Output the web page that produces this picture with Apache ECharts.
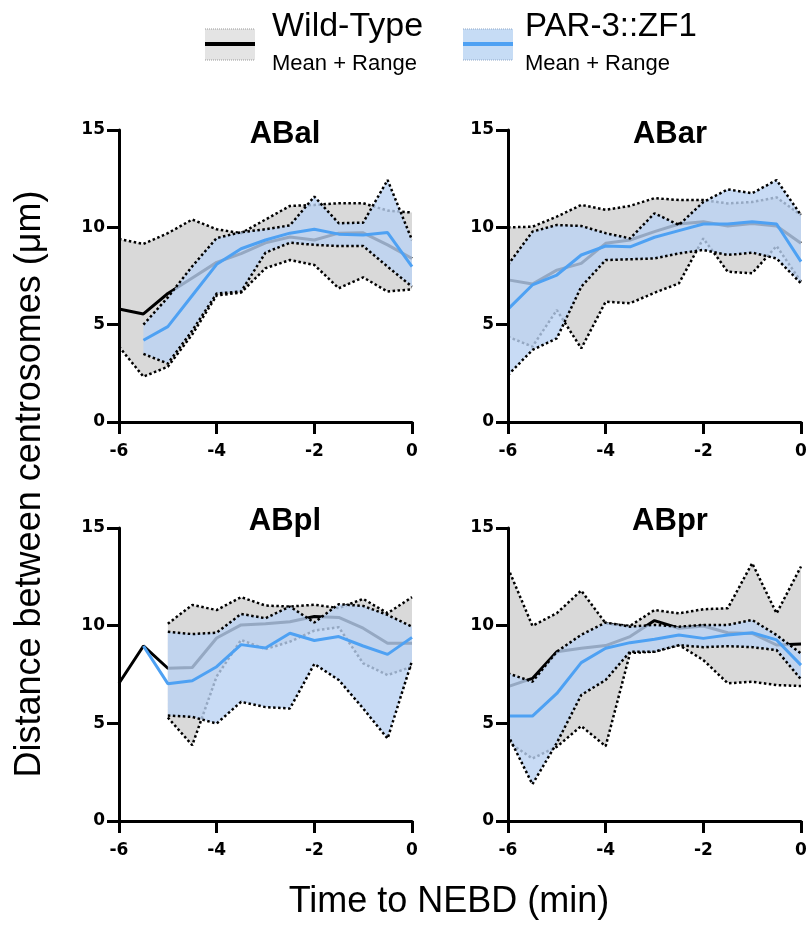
<!DOCTYPE html>
<html>
<head>
<meta charset="utf-8">
<title>Centrosome distance</title>
<script src="https://cdn.jsdelivr.net/npm/echarts@6.0.0/dist/echarts.min.js"></script>
<style>
  html, body { margin: 0; padding: 0; background: #fff; }
  #chart { width: 810px; height: 928px; }
</style>
</head>
<body>
<div id="chart"></div>
<script>
// time points (min before NEBD)
const times = [-6, -5.5, -5, -4.5, -4, -3.5, -3, -2.5, -2, -1.5, -1, -0.5, 0]
const panelNames = ['ABal', 'ABar', 'ABpl', 'ABpr']
const xTicks = [-6, -4, -2, 0]
const yTicks = [0, 5, 10, 15]

// ABal
const abalWtMean = [5.8, 5.55, 6.6, 7.4, 8.2, 8.65, 9.2, 9.5, 9.35, 9.7, 9.72, 9.1, 8.4]
const abalWtLow = [3.87, 2.33, 2.84, 4.5, 6.5, 6.65, 7.9, 8.32, 8.07, 6.87, 7.43, 6.7, 6.82]
const abalWtHigh = [9.4, 9.15, 9.7, 10.4, 9.9, 9.7, 10.4, 11.1, 11.15, 11.24, 11.24, 10.86, 10.76]
const abalParMean = [null, 4.2, 4.9, 6.5, 8.1, 8.9, 9.35, 9.7, 9.9, 9.65, 9.61, 9.73, 7.98]
const abalParLow = [null, 3.5, 3.0, 4.7, 6.6, 6.7, 8.7, 9.21, 9.1, 9.04, 9.04, 7.98, 6.95]
const abalParHigh = [null, 5.0, 6.4, 8.0, 9.45, 9.75, 9.9, 10.1, 11.58, 10.21, 10.24, 12.43, 9.35]

// ABar
const abarWtMean = [7.3, 7.09, 7.8, 8.15, 9.18, 9.35, 9.78, 10.17, 10.29, 10.07, 10.2, 10.07, 9.18]
const abarWtLow = [4.38, 3.87, 5.75, 3.78, 6.18, 6.1, 6.64, 7.12, 9.43, 7.72, 7.64, 9.04, 7.2]
const abarWtHigh = [10.0, 10.03, 10.55, 11.15, 10.9, 11.1, 11.5, 11.4, 11.4, 11.23, 11.3, 11.54, 10.63]
const abarParMean = [5.8, 7.04, 7.55, 8.58, 9.04, 9.0, 9.49, 9.83, 10.17, 10.17, 10.29, 10.17, 8.24]
const abarParLow = [2.41, 3.7, 4.3, 6.95, 8.32, 8.36, 8.4, 8.66, 8.84, 8.58, 8.7, 8.4, 7.12]
const abarParHigh = [8.07, 9.78, 10.12, 10.07, 9.7, 9.43, 10.72, 10.12, 11.3, 11.95, 11.75, 12.43, 10.63]

// ABpl
const abplWtMean = [7.05, 8.96, 7.82, 7.86, 9.37, 10.04, 10.1, 10.2, 10.47, 10.42, 9.87, 9.1, 9.1]
const abplWtLow = [null, null, 5.3, 3.88, 7.4, 9.27, 8.8, 9.18, 9.75, 9.92, 8.07, 7.47, 7.9]
const abplWtHigh = [null, null, 10.1, 11.06, 10.8, 11.46, 11.03, 10.98, 11.07, 10.9, 11.37, 10.64, 11.46]
const abplParMean = [null, 8.96, 7.03, 7.18, 7.9, 9.03, 8.86, 9.61, 9.24, 9.44, 8.96, 8.53, 9.4]
const abplParLow = [null, null, 5.4, 5.33, 4.99, 6.1, 5.83, 5.76, 8.04, 7.22, 5.76, 4.22, 8.2]
const abplParHigh = [null, null, 9.69, 9.57, 9.64, 10.6, 10.38, 10.98, 10.16, 11.1, 11.01, 10.55, 9.95]

// ABpr
const abprWtMean = [6.88, 7.3, 8.67, 8.84, 8.98, 9.44, 10.26, 9.87, 9.98, 9.64, 9.6, 9.01, 9.06]
const abprWtLow = [4.05, 3.2, 3.8, 4.86, 3.83, 8.6, 8.67, 9.01, 8.24, 7.05, 7.13, 6.96, 6.91]
const abprWtHigh = [12.95, 9.99, 10.64, 11.8, 10.12, 9.99, 10.8, 10.63, 10.84, 10.89, 13.2, 10.63, 13.03]
const abprParMean = [5.37, 5.37, 6.53, 8.11, 8.84, 9.13, 9.3, 9.52, 9.35, 9.52, 9.64, 9.27, 7.98]
const abprParLow = [4.4, 1.88, 4.0, 6.45, 7.22, 8.67, 8.67, 9.0, 8.9, 8.95, 8.9, 8.75, 7.25]
const abprParHigh = [7.56, 7.13, 8.67, 9.53, 10.16, 9.95, 10.04, 9.95, 10.04, 10.04, 10.29, 9.52, 8.58]

const panels = [
  { wt: [abalWtMean, abalWtLow, abalWtHigh], par: [abalParMean, abalParLow, abalParHigh] },
  { wt: [abarWtMean, abarWtLow, abarWtHigh], par: [abarParMean, abarParLow, abarParHigh] },
  { wt: [abplWtMean, abplWtLow, abplWtHigh], par: [abplParMean, abplParLow, abplParHigh] },
  { wt: [abprWtMean, abprWtLow, abprWtHigh], par: [abprParMean, abprParLow, abprParHigh] },
]

const WT_FILL = '#d9d9d9'
const PAR_FILL = 'rgba(186, 210, 242, 0.8)'
const PAR_LINE = '#4ea1f3'

const grids = [
  { left: 119, top: 130, width: 293, height: 292 },
  { left: 508, top: 130, width: 293, height: 292 },
  { left: 119, top: 528, width: 293, height: 293 },
  { left: 508, top: 528, width: 293, height: 293 },
]
const titlePos = [[285, 134], [670, 134], [285, 521], [670, 521]]

function pairs(arr) {
  return times.map((t, k) => [t, arr[k]])
}

// range band: one polygon per panel, corners from the axes' own coord()
function band(i, low, high, fill, z) {
  const data = times
    .map((t, k) => [t, low[k], high[k]])
    .filter(d => d[1] != null && d[2] != null)
  return {
    type: 'custom', xAxisIndex: i, yAxisIndex: i, silent: true, z: z,
    data: data,
    encode: { x: 0, y: [1, 2] },
    renderItem(params, api) {
      if (params.dataIndex !== 0) return
      const top = data.map(d => api.coord([d[0], d[2]]))
      const bottom = data.map(d => api.coord([d[0], d[1]])).reverse()
      return { type: 'polygon', shape: { points: top.concat(bottom) }, style: { fill: fill } }
    },
  }
}

function dotted(i, arr, z) {
  return { type: 'line', xAxisIndex: i, yAxisIndex: i, data: pairs(arr), symbol: 'none',
    silent: true, z: z, lineStyle: { color: '#000', width: 2.5, type: [2.5, 2.5] } }
}

function meanLine(i, arr, color, z) {
  return { type: 'line', xAxisIndex: i, yAxisIndex: i, data: pairs(arr), symbol: 'none',
    silent: true, z: z, lineStyle: { color: color, width: 3 } }
}

let series = []
panels.forEach((p, i) => {
  // wild-type underneath, PAR-3::ZF1 band laid over it
  series.push(band(i, p.wt[1], p.wt[2], WT_FILL, 1))
  series.push(dotted(i, p.wt[1], 2), dotted(i, p.wt[2], 2), meanLine(i, p.wt[0], '#000', 2))
  series.push(band(i, p.par[1], p.par[2], PAR_FILL, 3))
  series.push(dotted(i, p.par[1], 4), dotted(i, p.par[2], 4), meanLine(i, p.par[0], PAR_LINE, 4))
})

const axisLine = { show: true, onZero: false, lineStyle: { color: '#000', width: 3 } }
const axisTick = { show: true, length: 12, lineStyle: { color: '#000', width: 3 } }
const tickFont = { color: '#000', fontFamily: 'DejaVu Sans', fontWeight: 'bold', fontSize: 17 }

const chart = echarts.init(document.getElementById('chart'))
chart.setOption({
  animation: false,
  grid: grids,
  xAxis: grids.map((g, i) => ({
    type: 'value', gridIndex: i, min: xTicks[0], max: xTicks[xTicks.length - 1], interval: 2,
    axisLine, axisTick, splitLine: { show: false }, z: 5,
    axisLabel: Object.assign({ margin: 21 }, tickFont),
  })),
  yAxis: grids.map((g, i) => ({
    type: 'value', gridIndex: i, min: yTicks[0], max: yTicks[yTicks.length - 1], interval: 5,
    axisLine, axisTick, splitLine: { show: false }, z: 5,
    axisLabel: Object.assign({ margin: 14 }, tickFont),
  })),
  series,
  graphic: [
    // panel titles
    ...panelNames.map((name, i) => ({
      type: 'text', x: titlePos[i][0], y: titlePos[i][1], silent: true,
      style: { text: name, font: 'bold 31px "Liberation Sans"', fill: '#000',
        align: 'center', verticalAlign: 'middle' },
    })),
    // axis titles
    {
      type: 'text', x: 30, y: 484, rotation: Math.PI / 2, silent: true,
      style: { text: 'Distance between centrosomes (μm)', font: '36px "Liberation Sans"',
        fill: '#000', align: 'center', verticalAlign: 'middle' },
    },
    {
      type: 'text', x: 449, y: 902, silent: true,
      style: { text: 'Time to NEBD (min)', font: '36px "Liberation Sans"',
        fill: '#000', align: 'center', verticalAlign: 'middle' },
    },
    // legend
    { type: 'rect', shape: { x: 205, y: 29, width: 50, height: 31 }, style: { fill: '#e4e4e4' }, silent: true },
    { type: 'line', shape: { x1: 205, y1: 29, x2: 255, y2: 29 }, style: { stroke: '#999', lineWidth: 1, lineDash: [1, 1] }, silent: true },
    { type: 'line', shape: { x1: 205, y1: 60, x2: 255, y2: 60 }, style: { stroke: '#999', lineWidth: 1, lineDash: [1, 1] }, silent: true },
    { type: 'line', shape: { x1: 205, y1: 44, x2: 255, y2: 44 }, style: { stroke: '#000', lineWidth: 4 }, silent: true },
    { type: 'text', x: 272, y: 27, silent: true,
      style: { text: 'Wild-Type', font: '34px "Liberation Sans"', fill: '#000', verticalAlign: 'middle' } },
    { type: 'text', x: 272, y: 64, silent: true,
      style: { text: 'Mean + Range', font: '22px "Liberation Sans"', fill: '#000', verticalAlign: 'middle' } },
    { type: 'rect', shape: { x: 463, y: 29, width: 50, height: 31 }, style: { fill: '#c6dcf5' }, silent: true },
    { type: 'line', shape: { x1: 463, y1: 29, x2: 513, y2: 29 }, style: { stroke: '#8fa8c8', lineWidth: 1, lineDash: [1, 1] }, silent: true },
    { type: 'line', shape: { x1: 463, y1: 60, x2: 513, y2: 60 }, style: { stroke: '#8fa8c8', lineWidth: 1, lineDash: [1, 1] }, silent: true },
    { type: 'line', shape: { x1: 463, y1: 44, x2: 513, y2: 44 }, style: { stroke: PAR_LINE, lineWidth: 4 }, silent: true },
    { type: 'text', x: 525, y: 27, silent: true,
      style: { text: 'PAR-3::ZF1', font: '33px "Liberation Sans"', fill: '#000', verticalAlign: 'middle' } },
    { type: 'text', x: 525, y: 64, silent: true,
      style: { text: 'Mean + Range', font: '22px "Liberation Sans"', fill: '#000', verticalAlign: 'middle' } },
  ],
})
</script>
</body>
</html>
